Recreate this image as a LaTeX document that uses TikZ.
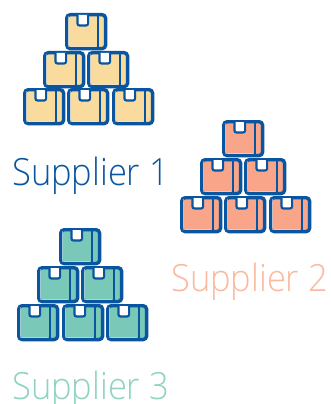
\documentclass[tikz,border=0pt]{standalone}
\usepackage{fontspec}
\setmainfont{Open Sans}[UprightFont=* Light,FakeStretch=0.92]
\definecolor{edge}{HTML}{0A559F}
\definecolor{yel}{HTML}{F9DC9D}
\definecolor{sal}{HTML}{F9A58A}
\definecolor{tea}{HTML}{79C8B8}
\definecolor{saltxt}{HTML}{FBB9A0}
\definecolor{teatxt}{HTML}{8ED2C2}
\tikzset{x=1pt,y=-1pt,
 crate/.pic={
  \draw[edge,line width=3.4pt,fill=#1,rounded corners=3.5pt] (1.7,1.7) rectangle (40.6,35.6);
  \draw[white,opacity=.45,line width=.7pt] (3.8,3.4) -- (3.8,33.5) -- (31.4,33.5);
  \draw[edge,line width=2.6pt] (33,1.7) -- (33,35.6);
  \draw[edge,line width=2.2pt,fill=white,rounded corners=2pt] (12.5,2) -- (12.5,12.5) -- (23,12.5) -- (23,2);
  \fill[white] (13.6,3.4) rectangle (21.9,11.4);
 },
 lab/.style={anchor=base west,inner sep=0pt,font=\fontsize{37.5}{37.5}\selectfont}}
\begin{document}
\begin{tikzpicture}
\useasboundingbox (0,0) rectangle (330,404);
\foreach \x/\y in {65/13,43/51,87/51,23/88,67/88,112/88}
  \pic at (\x,\y) {crate=yel};
\foreach \x/\y in {222/120,200/158,244/158,180/196,224/196,269/196}
  \pic at (\x,\y) {crate=sal};
\foreach \x/\y in {59/228,37/266,81/266,17/304,62/304,106/304}
  \pic at (\x,\y) {crate=tea};
\node[lab,text=edge] (s1) at (12,185) {Supplier 1};
\node[lab,text=saltxt] (s2) at (171,291) {Supplier 2};
\node[lab,text=teatxt] (s3) at (12,399) {Supplier 3};
\end{tikzpicture}
\end{document}
